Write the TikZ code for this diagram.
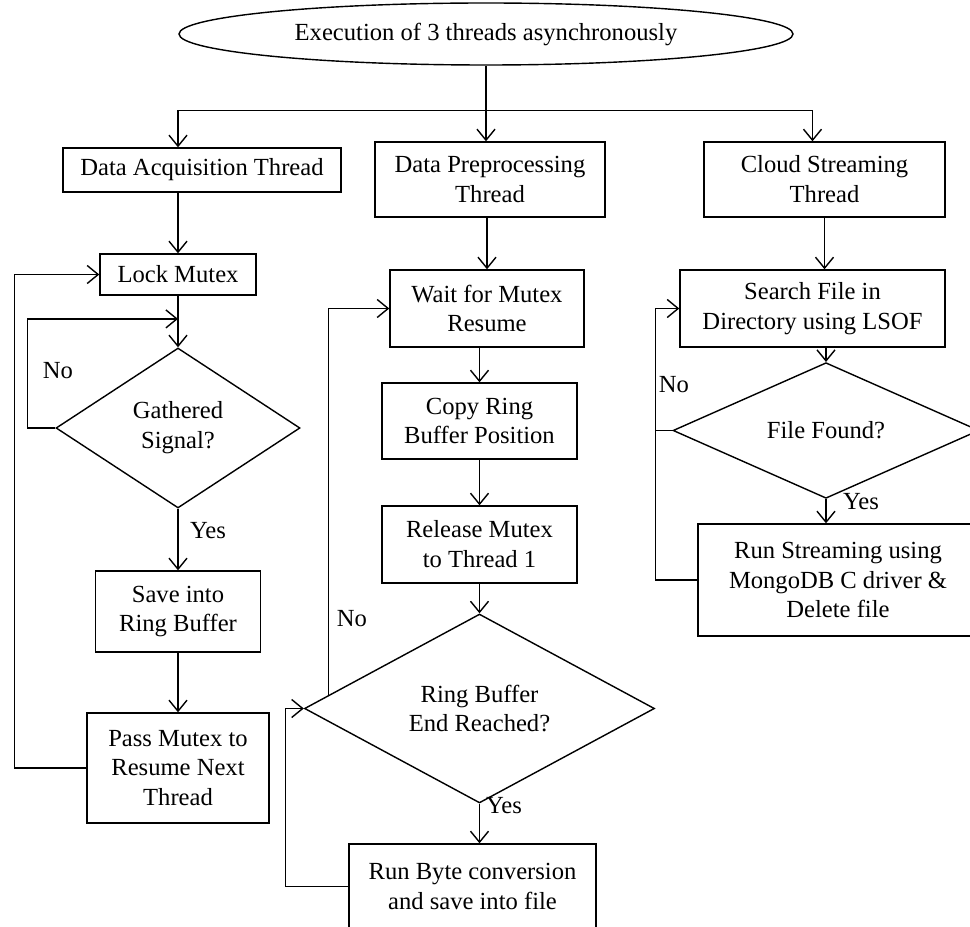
\documentclass[tikz,border=0pt]{standalone}
\usepackage{fontspec}
\setmainfont{Liberation Serif}
\usepackage{tikz}
\usetikzlibrary{calc,positioning,shapes.geometric,arrows.meta}

\begin{document}
\begin{tikzpicture}[>={Straight Barb[length=2.2mm,width=3.6mm]}, line width=0.8pt,
	box/.style={draw, rectangle, align=center, inner sep=0pt, font=\fontsize{14}{17}\selectfont},
	decision/.style={draw, diamond, align=center, inner sep=0pt, font=\fontsize{14}{17}\selectfont},
	startnode/.style={draw, ellipse, inner sep=0pt, font=\fontsize{14}{17}\selectfont},
	lbl/.style={font=\fontsize{14}{17}\selectfont}]
	
	\useasboundingbox (0,0) rectangle (19.4,18.52);
	
	% =========================================================
	% Start and the three threads
	% =========================================================
	\node[startnode, minimum width=12.28cm, minimum height=1.24cm] (start) at (9.72,17.84) {Execution of 3 threads asynchronously};
	
	\node[box, minimum width=5.56cm, minimum height=0.88cm] (acq) at (4.04,15.12) {Data Acquisition Thread};
	\node[box, minimum width=4.6cm, minimum height=1.5cm] (prep) at (9.8,14.93) {Data Preprocessing\\Thread};
	\node[box, minimum width=4.82cm, minimum height=1.5cm] (cloud) at (16.49,14.93) {Cloud Streaming\\Thread};
	
	% =========================================================
	% Thread 1: acquisition
	% =========================================================
	\node[box, minimum width=3.12cm, minimum height=0.82cm] (lock) at (3.56,13.03) {Lock Mutex};
	\node[decision, minimum width=4.88cm, minimum height=3.2cm] (gath) at (3.56,9.96) {Gathered\\Signal?};
	\node[box, minimum width=3.3cm, minimum height=1.62cm] (save) at (3.56,6.29) {Save into\\Ring Buffer};
	\node[box, minimum width=3.64cm, minimum height=2.2cm] (pass) at (3.56,3.16) {Pass Mutex to\\Resume Next\\Thread};
	
	% =========================================================
	% Thread 2: preprocessing
	% =========================================================
	\node[box, minimum width=3.88cm, minimum height=1.54cm] (wait) at (9.74,12.35) {Wait for Mutex\\Resume};
	\node[box, minimum width=3.9cm, minimum height=1.52cm] (copy) at (9.59,10.1) {Copy Ring\\Buffer Position};
	\node[box, minimum width=3.9cm, minimum height=1.54cm] (release) at (9.59,7.63) {Release Mutex\\to Thread 1};
	\node[decision, minimum width=7cm, minimum height=2.86cm] (ring) at (9.59,4.35) {Ring Buffer\\End Reached?};
	\node[box, minimum width=4.94cm, minimum height=1.7cm] (runbyte) at (9.45,0.79) {Run Byte conversion\\and save into file};
	
	% =========================================================
	% Thread 3: cloud streaming
	% =========================================================
	\node[box, minimum width=5.3cm, minimum height=1.54cm] (search) at (16.25,12.35) {Search File in\\Directory using LSOF};
	\node[decision, minimum width=6.12cm, minimum height=1.82cm] (file) at (16.52,9.91) {File Found?};
	\node[box, minimum width=5.6cm, minimum height=2.24cm] (stream) at (16.76,6.92) {Run Streaming using\\MongoDB C driver \&\\Delete file};
	
	% Fork to the threads
	\coordinate (fork) at ($(start.south)+(0,-0.9)$);
	\draw (start.south) -- (fork);
	\draw[->] (fork) -| (acq.north -| lock.north);
	\draw[->] (fork) -- (fork |- prep.north);
	\draw[->] (fork) -| (cloud.north -| search.north);
	
	% Thread 1 arrows
	\draw[->] (acq.south -| lock.north) -- (lock.north);
	\draw[->] (lock.south) -- (gath.north);
	\coordinate (gj) at ($(lock.south)!0.45!(gath.north)$);
	\draw[->] (gath.west) -- ++(-0.56,0) |- (gj);
	\draw[->] (gath.south) -- (save.north);
	\draw[->] (save.south) -- (pass.north);
	\draw[->] (pass.west) -- ++(-1.44,0) |- (lock.west);
	
	% Thread 2 arrows
	\draw[->] (wait.north |- prep.south) -- (wait.north);
	\draw[->] (copy.north |- wait.south) -- (copy.north);
	\draw[->] (copy.south) -- (release.north);
	\draw[->] (release.south) -- (ring.north);
	\draw[->] (ring.south) -- (ring.south |- runbyte.north);
	\draw[->] ($(ring.west)!0.14!(ring.north)$) |- (wait.west);
	\draw[->] (runbyte.west) -- ++(-1.26,0) |- (ring.west);
	
	% Thread 3 arrows
	\draw[->] (cloud.south) -- (cloud.south |- search.north);
	\draw[->] (search.south -| file.north) -- (file.north);
	\draw[->] (file.south) -- (file.south |- stream.north);
	\draw[->] (file.west) -- ++(-0.34,0) |- (search.west);
	\draw (stream.west) -| ($(file.west)+(-0.34,0)$);
	
	% Yes / No labels
	\node[lbl] (no1) at (1.16,11.1) {No};
	\node[lbl] (yes1) at (4.16,7.9) {Yes};
	\node[lbl] (no2) at (7.04,6.14) {No};
	\node[lbl] (yes2) at (10.08,2.4) {Yes};
	\node[lbl] (no3) at (13.48,10.82) {No};
	\node[lbl] (yes3) at (17.22,8.48) {Yes};
	
\end{tikzpicture}
\end{document}
